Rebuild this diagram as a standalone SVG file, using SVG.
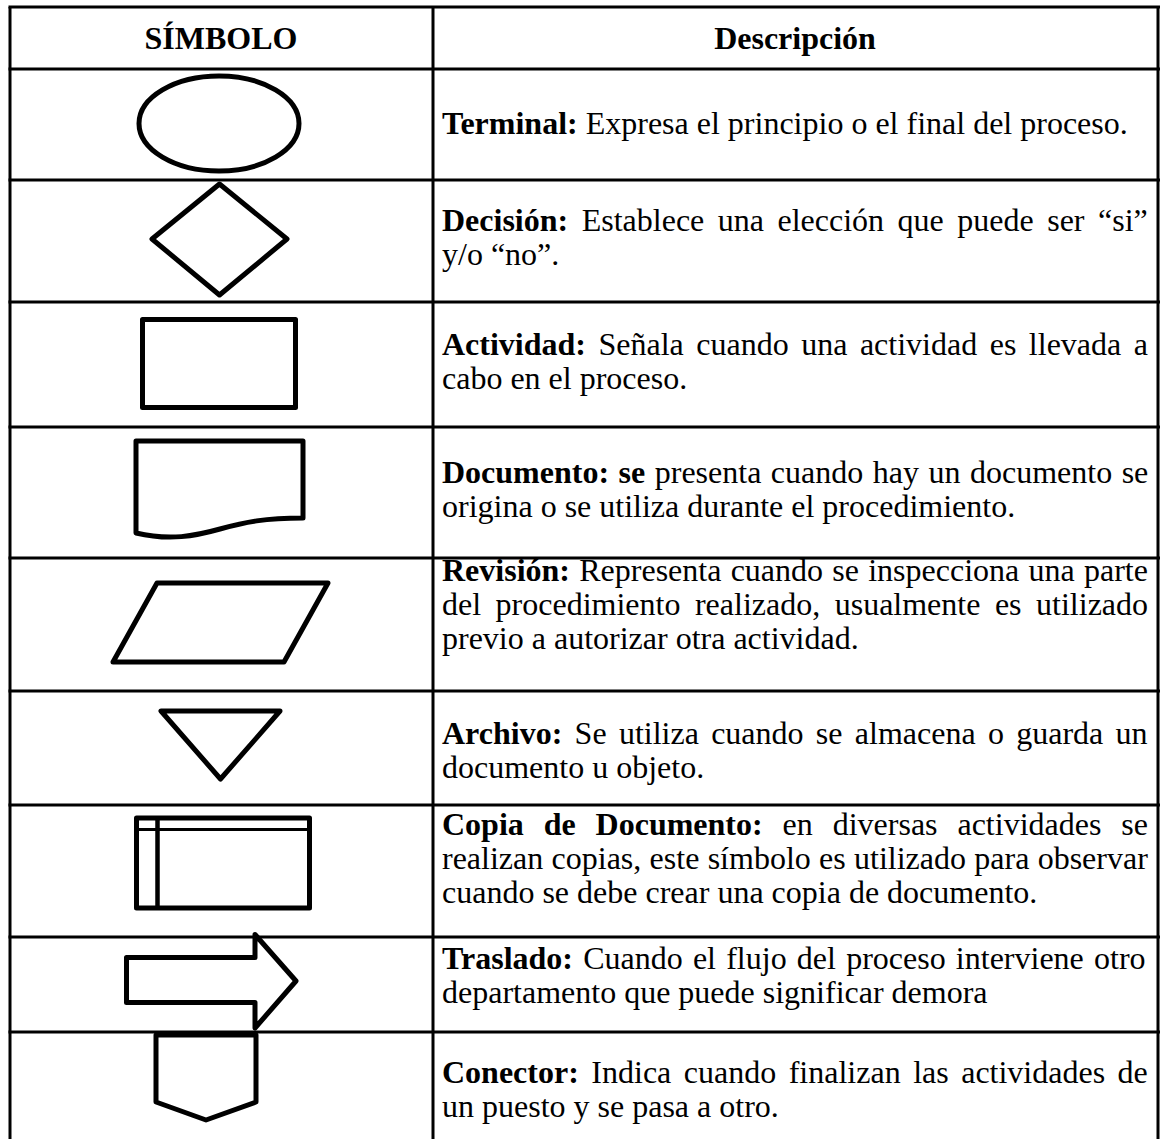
<svg xmlns="http://www.w3.org/2000/svg" width="1160" height="1139" viewBox="0 0 1160 1139">
<style>
.grid{stroke:#000;stroke-width:3;fill:none}
.sym{stroke:#000;stroke-width:5;fill:none;stroke-linejoin:round}
.t{font-family:"Liberation Serif","Times New Roman",serif;font-size:32px;fill:#000}
.b{font-weight:bold}
.h{font-family:"Liberation Serif","Times New Roman",serif;font-size:32px;font-weight:bold;fill:#000;text-anchor:middle}
</style>
<rect x="0" y="0" width="1160" height="1139" fill="#fff"/>
<g id="table-lines" class="grid">
<line x1="10" y1="7" x2="10" y2="1139"/>
<line x1="433" y1="7" x2="433" y2="1139"/>
<line x1="1158" y1="7" x2="1158" y2="1139"/>
<line x1="8.5" y1="7" x2="1160" y2="7"/>
<line x1="8.5" y1="69" x2="1160" y2="69"/>
<line x1="8.5" y1="180" x2="1160" y2="180"/>
<line x1="8.5" y1="302" x2="1160" y2="302"/>
<line x1="8.5" y1="427" x2="1160" y2="427"/>
<line x1="8.5" y1="558" x2="1160" y2="558"/>
<line x1="8.5" y1="691" x2="1160" y2="691"/>
<line x1="8.5" y1="805" x2="1160" y2="805"/>
<line x1="8.5" y1="937" x2="1160" y2="937"/>
<line x1="8.5" y1="1032" x2="1160" y2="1032"/>
</g>
<g id="connectors"></g>
<g id="header">
<text class="h" x="221" y="49">SÍMBOLO</text>
<text class="h" x="795" y="49">Descripción</text>
</g>
<g id="terminal">
<ellipse class="sym" cx="219" cy="123.5" rx="80" ry="47.5"/>
<text class="t" x="442" y="134"><tspan class="b">Terminal:</tspan> Expresa el principio o el final del proceso.</text>
</g>
<g id="decision">
<polygon class="sym" stroke-width="4.5" points="219.5,184 287,239 219.5,295 152,239"/>
<text class="t" x="442" y="231" word-spacing="5.5"><tspan class="b">Decisión:</tspan> Establece una elección que puede ser “si”</text>
<text class="t" x="442" y="265">y/o “no”.</text>
</g>
<g id="actividad">
<rect class="sym" x="142.5" y="319.5" width="153" height="88"/>
<text class="t" x="442" y="355" word-spacing="4.5"><tspan class="b">Actividad:</tspan> Señala cuando una actividad es llevada a</text>
<text class="t" x="442" y="389">cabo en el proceso.</text>
</g>
<g id="documento">
<path class="sym" d="M136,441 H303 V518 C265,518 245,522 220,529 C195,536 170,541 136,533 Z"/>
<text class="t" x="442" y="483" word-spacing="1.5"><tspan class="b">Documento: se</tspan> presenta cuando hay un documento se</text>
<text class="t" x="442" y="517">origina o se utiliza durante el procedimiento.</text>
</g>
<g id="revision">
<polygon class="sym" points="157,583 328,583 284,662 113,662"/>
<text class="t" x="442" y="581" word-spacing="1.25"><tspan class="b">Revisión:</tspan> Representa cuando se inspecciona una parte</text>
<text class="t" x="442" y="615" word-spacing="6.5">del procedimiento realizado, usualmente es utilizado</text>
<text class="t" x="442" y="649">previo a autorizar otra actividad.</text>
</g>
<g id="archivo">
<polygon class="sym" points="161,711 280,711 220.5,779"/>
<text class="t" x="442" y="744" word-spacing="4.3"><tspan class="b">Archivo:</tspan> Se utiliza cuando se almacena o guarda un</text>
<text class="t" x="442" y="778">documento u objeto.</text>
</g>
<g id="copia-documento">
<rect class="sym" stroke-width="4.5" x="136.5" y="818" width="173" height="90"/>
<line x1="136.5" y1="829.5" x2="309.5" y2="829.5" stroke="#000" stroke-width="3"/>
<line x1="157.5" y1="818" x2="157.5" y2="908" stroke="#000" stroke-width="4.5"/>
<text class="t" x="442" y="835" word-spacing="11.9"><tspan class="b">Copia de Documento:</tspan> en diversas actividades se</text>
<text class="t" x="442" y="869" word-spacing="0.3">realizan copias, este símbolo es utilizado para observar</text>
<text class="t" x="442" y="903">cuando se debe crear una copia de documento.</text>
</g>
<g id="traslado">
<polygon class="sym" points="126.5,957.5 255,957.5 255,934.5 296,981 255,1028 255,1002.5 126.5,1002.5"/>
<text class="t" x="442" y="969" word-spacing="2.2"><tspan class="b">Traslado:</tspan> Cuando el flujo del proceso interviene otro</text>
<text class="t" x="442" y="1003">departamento que puede significar demora</text>
</g>
<g id="conector">
<polygon class="sym" points="156,1035 256,1035 256,1102 206,1120 156,1102"/>
<text class="t" x="442" y="1083" word-spacing="4.5"><tspan class="b">Conector:</tspan> Indica cuando finalizan las actividades de</text>
<text class="t" x="442" y="1117">un puesto y se pasa a otro.</text>
</g>
</svg>
